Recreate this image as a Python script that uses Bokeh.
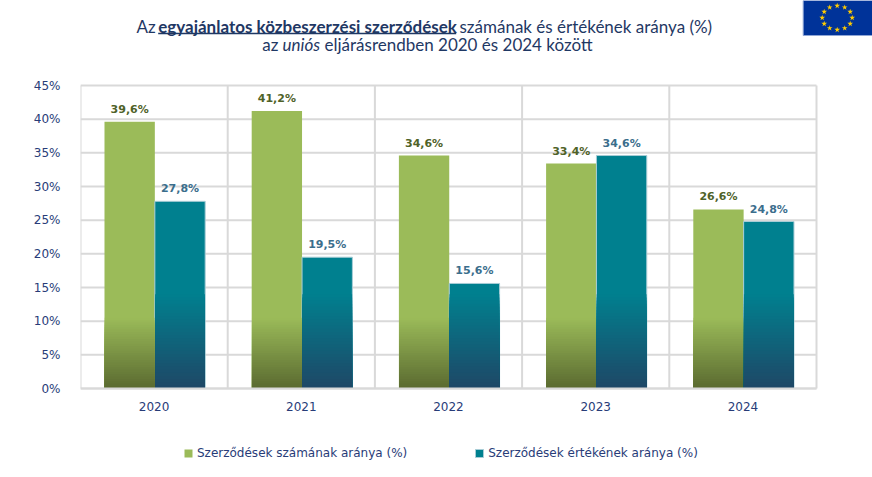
from bokeh.core.properties import value
from bokeh.embed import file_html
from bokeh.models import FixedTicker, Legend, LegendItem, PrintfTickFormatter, Range1d
from bokeh.plotting import figure
from bokeh.resources import INLINE
import math

# data
years = ["2020", "2021", "2022", "2023", "2024"]
count_share = [39.6, 41.2, 34.6, 33.4, 26.6]
value_share = [27.8, 19.5, 15.6, 34.6, 24.8]
y_ticks = [0, 5, 10, 15, 20, 25, 30, 35, 40, 45]
series_names = ["Szerződések számának aránya (%)", "Szerződések értékének aránya (%)"]
title_1 = ["Az", "egyajánlatos közbeszerzési szerződések", "számának és értékének aránya (%)"]
title_2 = ["az", "uniós", "eljárásrendben 2020 és 2024 között"]

NAVY = "#1f3864"
TICK = "#283c78"
GREEN = "#9bbb59"
GREEN_DARK = "#5a6a30"
TEAL = "#00808f"
TEAL_DARK = "#1f4766"
GRID = "#d9d9d9"

W, H = 872, 477
LEFT = 80                        # frame starts here, axis labels to its left
ZERO_Y = 388                     # canvas row of the 0% line
PX_X = 736 / len(years)          # pixels per category
PX_Y = 303 / y_ticks[-1]         # pixels per percent
x_end = (W - LEFT) / PX_X
y_start = -(H - ZERO_Y) / PX_Y
y_end = ZERO_Y / PX_Y


def px(cx):
    # canvas pixel -> data x
    return (cx - LEFT) / PX_X


def py(cy):
    # canvas pixel -> data y
    return (ZERO_Y - cy) / PX_Y


def mix(c1, c2, t):
    a = [int(c1[i:i + 2], 16) for i in (1, 3, 5)]
    b = [int(c2[i:i + 2], 16) for i in (1, 3, 5)]
    return "#%02x%02x%02x" % tuple(round(a[i] + (b[i] - a[i]) * t) for i in range(3))


def fmt(v):
    return ("%.1f" % v).replace(".", ",") + "%"


p = figure(width=W, height=H, x_range=Range1d(0, x_end), y_range=Range1d(y_start, y_end),
           output_backend="svg", toolbar_location=None,
           min_border_left=LEFT, min_border_right=0, min_border_top=0, min_border_bottom=0)
p.outline_line_color = None
p.grid.visible = False

# grid lines limited to the plot area
n_cat = len(years)
p.segment(x0=[0] * len(y_ticks), x1=[n_cat] * len(y_ticks), y0=y_ticks, y1=y_ticks,
          line_color=GRID, line_width=2)
p.segment(x0=list(range(n_cat + 1)), x1=list(range(n_cat + 1)), y0=[0] * (n_cat + 1),
          y1=[y_ticks[-1]] * (n_cat + 1), line_color=GRID, line_width=2)

xs = [i + 0.5 for i in range(n_cat)]
bw = 0.342
x_count = [x - 0.166 for x in xs]
x_value = [x + 0.176 for x in xs]

r_count = p.vbar(x=x_count, top=count_share, width=bw, fill_color=GREEN, line_color=None)
r_value = p.vbar(x=x_value, top=value_share, width=bw, fill_color=TEAL,
                 line_color="#a8cdd6", line_width=1)

# darker shading towards the bottom of the bars (overlapping layers, no seams)
n = 30
for xpos, vals, light, dark, h in [(x_count, count_share, GREEN, GREEN_DARK, 10.5),
                                   (x_value, value_share, TEAL, TEAL_DARK, 14)]:
    step = h / n
    for k in reversed(range(n)):
        p.vbar(x=xpos, bottom=0, top=[min(v, (k + 1) * step) for v in vals], width=bw - 0.004,
               fill_color=mix(dark, light, (k + 0.5) / n), line_color=None)

p.text(x=x_count, y=count_share, text=[fmt(v) for v in count_share], text_font=value("DejaVu Sans"),
       text_font_size="11px", text_font_style="bold", text_color="#4f6228",
       text_align="center", text_baseline="bottom", y_offset=-6)
p.text(x=x_value, y=value_share, text=[fmt(v) for v in value_share], text_font=value("DejaVu Sans"),
       text_font_size="11px", text_font_style="bold", text_color="#3b6e8c",
       text_align="center", text_baseline="bottom", y_offset=-6)

# title
font = value("Lato")
tkw = dict(text_font=font, text_font_size="17px", text_color=NAVY, text_baseline="middle")
p.text(x=[px(136)], y=[py(25.7)], text=[title_1[0]], **tkw)
p.text(x=[px(157.7)], y=[py(25.7)], text=[title_1[1]], text_font_style="bold", **tkw)
p.segment(x0=[px(157.7)], y0=[py(33)], x1=[px(455.7)], y1=[py(33)], line_color=NAVY, line_width=1.5)
p.text(x=[px(459)], y=[py(25.7)], text=[title_1[2]], **tkw)
p.text(x=[px(261.7)], y=[py(44)], text=[title_2[0]], **tkw)
p.text(x=[px(282)], y=[py(44)], text=[title_2[1]], text_font_style="italic", **tkw)
p.text(x=[px(324)], y=[py(44)], text=[title_2[2]], **tkw)

# EU flag
p.quad(left=[px(802.7)], right=[px(872)], top=[py(0)], bottom=[py(35)], fill_color="#003399",
       line_color="#8fa6d6", line_width=1)
ang = [2 * math.pi * k / 12 for k in range(12)]
p.scatter(x=[px(836.7 + 15 * math.cos(a)) for a in ang],
          y=[py(17.3 + 12 * math.sin(a)) for a in ang],
          marker="star", size=6, fill_color="#ffcc00", line_color=None)

p.yaxis.ticker = FixedTicker(ticks=y_ticks)
p.yaxis.formatter = PrintfTickFormatter(format="%d%%")
p.yaxis.axis_line_color = None
p.yaxis.major_tick_line_color = None
p.yaxis.minor_tick_line_color = None
p.yaxis.major_label_standoff = 14

# x axis drawn at the 0% line, inside the frame
p.xaxis.fixed_location = 0
p.xaxis.ticker = FixedTicker(ticks=xs)
p.xaxis.major_label_overrides = {x: y for x, y in zip(xs, years)}
p.xaxis.bounds = (0, n_cat)
p.xaxis.axis_line_color = GRID
p.xaxis.axis_line_width = 2
p.xaxis.major_tick_line_color = None
p.xaxis.minor_tick_line_color = None
p.xaxis.major_label_standoff = 7

p.axis.major_label_text_font = "DejaVu Sans"
p.axis.major_label_text_font_size = "12px"
p.axis.major_label_text_color = TICK

legend = Legend(items=[LegendItem(label=series_names[0], renderers=[r_count]),
                       LegendItem(label=series_names[1], renderers=[r_value])],
                orientation="horizontal", location=(103, 17), spacing=67,
                glyph_width=10, glyph_height=10, label_standoff=4, label_height=14,
                label_text_font="DejaVu Sans", label_text_font_size="12px",
                label_text_color=TICK, border_line_color=None, background_fill_alpha=0,
                margin=0, padding=4)
p.add_layout(legend, "center")

open("out.html", "w").write(file_html(p, INLINE))
